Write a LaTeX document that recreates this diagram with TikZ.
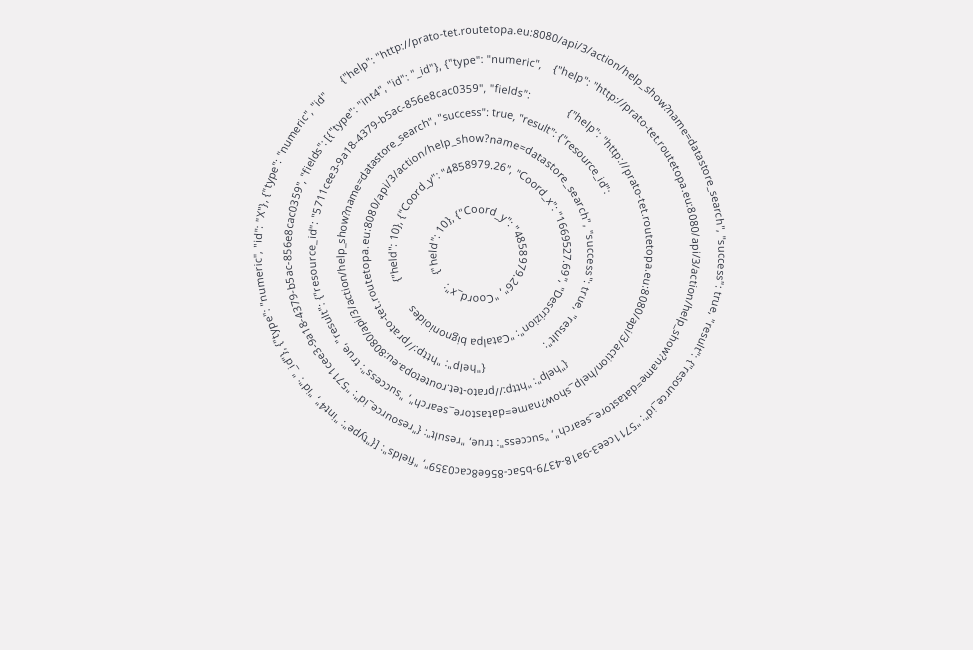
\documentclass[tikz,border=0pt]{standalone}
\usepackage{fontspec}
\newfontfamily\ringfont{Open Sans}[Ligatures=TeXOff]
\usetikzlibrary{decorations.text}
\definecolor{ink}{RGB}{45,50,62}
\definecolor{paper}{RGB}{242,240,241}

\begin{document}
\begin{tikzpicture}[x=1pt,y=1pt,
    ring/.style={decorate,decoration={text along path,text color=ink,
        text align=fit to path,
        text={|\ringfont\fontsize{10.8}{12}\selectfont|#1}}}]
    \fill [paper] (0,0) rectangle (973,650);          % background
    \useasboundingbox (0,0) rectangle (973,650);

    % innermost ring
    \path [ring={{\{}"held": 10{\}}, {\{}"Coord{\_}y": "4858979.26", "Coord{\_}x":}]
        (478,395) ++(207:41.5) arc [start angle=207, end angle=-137, radius=41.5];

    % second ring
    \path [ring={{\{}"held": 10{\}}, {\{}"Coord{\_}y": "4858979.26", "Coord{\_}x": "1669527.69", "Descrizion": "Catalpa bignonioides}]
        (480,396) ++(199:83.5 and 85.5) arc [start angle=199, end angle=-143, x radius=83.5, y radius=85.5];

    % third ring, starts at the bottom
    \path [ring={{\{}"help": "http://prato-tet.routetopa.eu:8080/api/3/action/help{\_}show?name=datastore{\_}search", "success": true, "result":}]
        (478,396) ++(274:109.5 and 111.5) arc [start angle=274, end angle=-54, x radius=109.5, y radius=111.5];

    % fourth ring
    \path [ring={{\{}"help": "http://prato-tet.routetopa.eu:8080/api/3/action/help{\_}show?name=datastore{\_}search", "success": true, "result": {\{}"resource{\_}id":}]
        (481,397) ++(308:136.5) arc [start angle=308, end angle=25, radius=136.5];

    % fifth ring
    \path [ring={{\{}"help": "http://prato-tet.routetopa.eu:8080/api/3/action/help{\_}show?name=datastore{\_}search", "success": true, "result": {\{}"resource{\_}id": "5711cee3-9a18-4379-b5ac-856e8cac0359", "fields":}]
        (481,398) ++(59:165.5 and 159.5) arc [start angle=59, end angle=-287, x radius=165.5, y radius=159.5];

    % sixth ring
    \path [ring={{\{}"help": "http://prato-tet.routetopa.eu:8080/api/3/action/help{\_}show?name=datastore{\_}search", "success": true, "result": {\{}"resource{\_}id": "5711cee3-9a18-4379-b5ac-856e8cac0359", "fields": [{\{}"type": "int4", "id": "{\_}id"{\}}, {\{}"type": "numeric",}]
        (492,398) ++(72.5:200.5 and 188.5) arc [start angle=72.5, end angle=-284, x radius=200.5, y radius=188.5];

    % outer ring
    \path [ring={{\{}"help": "http://prato-tet.routetopa.eu:8080/api/3/action/help{\_}show?name=datastore{\_}search", "success": true, "result": {\{}"resource{\_}id": "5711cee3-9a18-4379-b5ac-856e8cac0359", "fields": [{\{}"type": "int4", "id": "{\_}id"{\}}, {\{}"type": "numeric", "id": "X"{\}}, {\{}"type": "numeric", "id":}]
        (490,398) ++(130:228.5 and 218.5) arc [start angle=130, end angle=-225.5, x radius=228.5, y radius=218.5];
\end{tikzpicture}
\end{document}
